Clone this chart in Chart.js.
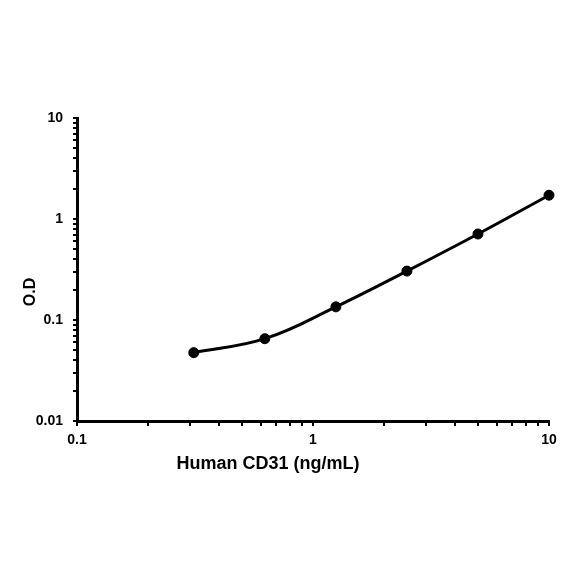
<!DOCTYPE html>
<html>
<head>
<meta charset="utf-8">
<script src="https://cdn.jsdelivr.net/npm/chart.js@4"></script>
<style>
  html, body { margin: 0; padding: 0; background: #fff; }
  #wrap { width: 584px; height: 584px; }
</style>
</head>
<body>
<div id="wrap"><canvas id="curveChart" width="584" height="584"></canvas></div>
<script>
// standard curve: concentration (ng/mL) vs optical density
const concentrations = [0.3125, 0.625, 1.25, 2.5, 5, 10];
const odValues = [0.0475, 0.0653, 0.135, 0.305, 0.71, 1.72];

const xTicks = [0.1, 0.2, 0.3, 0.4, 0.5, 0.6, 0.7, 0.8, 0.9, 1, 2, 3, 4, 5, 6, 7, 8, 9, 10];
const yTicks = [0.01, 0.02, 0.03, 0.04, 0.05, 0.06, 0.07, 0.08, 0.09,
                0.1, 0.2, 0.3, 0.4, 0.5, 0.6, 0.7, 0.8, 0.9,
                1, 2, 3, 4, 5, 6, 7, 8, 9, 10];
const xLabels = [0.1, 1, 10];
const yLabels = [0.01, 0.1, 1, 10];

const xTitle = 'Human CD31 (ng/mL)';
const yTitle = 'O.D';

const font = 'Liberation Sans, Arial, sans-serif';

const axisTitles = {
    id: 'axisTitles',
    afterDraw(chart) {
        const { ctx, chartArea } = chart;
        ctx.save();
        ctx.fillStyle = '#000';
        ctx.textAlign = 'center';
        ctx.textBaseline = 'middle';
        ctx.font = 'bold 18px ' + font;
        ctx.fillText(xTitle, chartArea.left + 191, chartArea.bottom + 43);
        ctx.translate(chartArea.left - 46, chartArea.top + 174);
        ctx.rotate(-Math.PI / 2);
        ctx.font = 'bold 16px ' + font;
        ctx.fillText(yTitle, 0, 0);
        ctx.restore();
    }
};

const ctx = document.getElementById('curveChart').getContext('2d');
new Chart(ctx, {
    type: 'line',
    data: {
        datasets: [{
            data: concentrations.map((c, i) => ({ x: c, y: odValues[i] })),
            borderColor: '#000',
            backgroundColor: '#000',
            borderWidth: 3,
            pointRadius: 5,
            pointBorderWidth: 1,
            pointBackgroundColor: '#000',
            tension: 0.4,
            clip: false
        }]
    },
    options: {
        responsive: false,
        animation: false,
        layout: { padding: { left: 27, right: 35, top: 118, bottom: 123 } },
        plugins: { legend: { display: false }, tooltip: { enabled: false } },
        scales: {
            x: {
                type: 'logarithmic',
                min: 0.1,
                max: 10,
                afterBuildTicks: s => { s.ticks = xTicks.map(v => ({ value: v })); },
                afterFit: s => { s.height = 40; },
                border: { color: '#000', width: 3 },
                grid: { drawOnChartArea: false, color: '#000', lineWidth: 2, tickLength: 5 },
                ticks: {
                    autoSkip: false,
                    maxRotation: 0,
                    padding: 6,
                    color: '#000',
                    font: { family: font, size: 14, weight: 'bold' },
                    callback: v => xLabels.includes(v) ? String(v) : ''
                }
            },
            y: {
                type: 'logarithmic',
                min: 0.01,
                max: 10,
                afterBuildTicks: s => { s.ticks = yTicks.map(v => ({ value: v })); },
                afterFit: s => { s.width = 50; },
                border: { color: '#000', width: 3 },
                grid: { drawOnChartArea: false, color: '#000', lineWidth: 2, tickLength: 4 },
                ticks: {
                    autoSkip: false,
                    padding: 10,
                    color: '#000',
                    font: { family: font, size: 14, weight: 'bold' },
                    callback: v => yLabels.includes(v) ? String(v) : ''
                }
            }
        }
    },
    plugins: [axisTitles]
});
</script>
</body>
</html>
